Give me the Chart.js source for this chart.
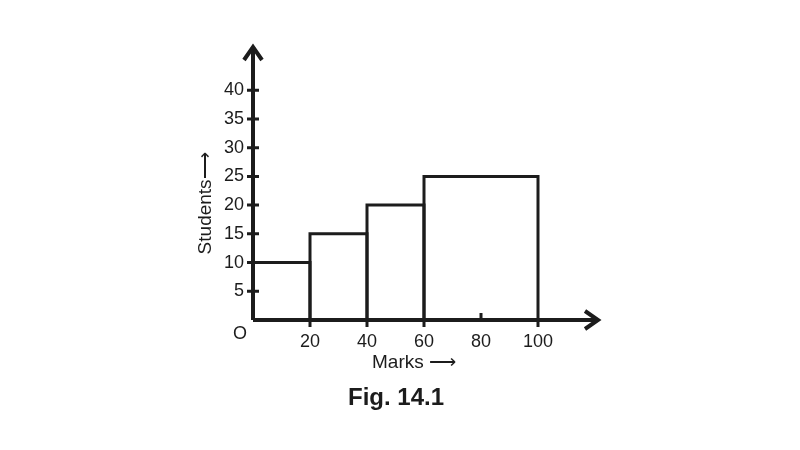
<!DOCTYPE html>
<html>
<head>
<meta charset="utf-8">
<script src="https://cdn.jsdelivr.net/npm/chart.js@4.4.1/dist/chart.umd.min.js"></script>
<style>
  html, body { margin: 0; padding: 0; background: #fff; }
  #wrap { width: 800px; height: 450px; }
</style>
</head>
<body>
<div id="wrap"><canvas id="myChart"></canvas></div>
<script>
// histogram data
const binStarts = [0, 20, 40, 60];
const binEnds = [20, 40, 60, 100];
const students = [10, 15, 20, 25];
const xTicks = [20, 40, 60, 80, 100];
const yTicks = [5, 10, 15, 20, 25, 30, 35, 40];

const ink = '#1c1c1c';
const fontFam = "'Liberation Sans', Arial, sans-serif";
Chart.defaults.font.family = fontFam;
Chart.defaults.color = ink;

const datasets = students.map((h, i) => ({
    data: [
        { x: binStarts[i], y: 0 },
        { x: binStarts[i], y: h },
        { x: binEnds[i], y: h },
        { x: binEnds[i], y: 0 }
    ],
    showLine: true,
    borderColor: ink,
    borderWidth: 3,
    borderJoinStyle: 'miter',
    pointRadius: 0,
    fill: false,
    clip: false
}));

// arrows, crossing ticks and labels
const axisExtras = {
    id: 'axisExtras',
    afterDraw(chart) {
        const { ctx, chartArea } = chart;
        const xs = chart.scales.x, ys = chart.scales.y;
        const x0 = xs.getPixelForValue(0), y0 = ys.getPixelForValue(0);
        ctx.save();
        ctx.strokeStyle = ink;
        ctx.lineCap = 'butt';
        ctx.lineJoin = 'miter';

        ctx.lineWidth = 4;
        const topTip = chartArea.top - 3;
        const rightTip = chartArea.right + 3;
        ctx.beginPath();
        ctx.moveTo(x0, y0); ctx.lineTo(x0, topTip + 2);
        ctx.moveTo(x0, y0); ctx.lineTo(rightTip - 2, y0);
        ctx.stroke();
        ctx.beginPath();
        ctx.moveTo(x0 - 9, topTip + 13); ctx.lineTo(x0, topTip); ctx.lineTo(x0 + 9, topTip + 13);
        ctx.moveTo(rightTip - 13, y0 - 9); ctx.lineTo(rightTip, y0); ctx.lineTo(rightTip - 13, y0 + 9);
        ctx.stroke();

        ctx.lineWidth = 3;
        ctx.beginPath();
        yTicks.forEach(v => {
            const py = ys.getPixelForValue(v);
            ctx.moveTo(x0 - 6, py); ctx.lineTo(x0 + 6, py);
        });
        xTicks.forEach(v => {
            const px = xs.getPixelForValue(v);
            if (binEnds.includes(v)) { ctx.moveTo(px, y0); ctx.lineTo(px, y0 + 7); }
            else { ctx.moveTo(px, y0 - 7); ctx.lineTo(px, y0); }
        });
        ctx.stroke();

        ctx.fillStyle = ink;
        ctx.font = '18px ' + fontFam;
        ctx.textAlign = 'center';
        ctx.textBaseline = 'middle';
        ctx.fillText('O', x0 - 13, y0 + 14);
        ctx.font = '19px ' + fontFam;
        ctx.fillText('Marks \u27F6', xs.getPixelForValue(56.5), y0 + 43);

        ctx.font = 'bold 24px ' + fontFam;
        ctx.fillText('Fig. 14.1', 396, 398);

        ctx.font = '19px ' + fontFam;
        ctx.translate(x0 - 47, ys.getPixelForValue(20.3));
        ctx.rotate(-Math.PI / 2);
        ctx.fillText('Students\u27F6', 0, 0);
        ctx.restore();
    }
};

new Chart(document.getElementById('myChart'), {
    type: 'scatter',
    data: { datasets },
    options: {
        responsive: true,
        maintainAspectRatio: false,
        animation: false,
        layout: { padding: { top: 50, right: 205, left: 0, bottom: 70 } },
        plugins: {
            legend: { display: false },
            tooltip: { enabled: false },
            title: { display: false }
        },
        scales: {
            x: {
                type: 'linear',
                min: 0,
                max: 120,
                grid: { display: false, drawTicks: false },
                border: { display: false },
                afterBuildTicks: s => { s.ticks = xTicks.map(v => ({ value: v })); },
                afterFit: s => { s.height = 60; },
                ticks: { padding: 11, font: { size: 18 }, maxRotation: 0 }
            },
            y: {
                type: 'linear',
                min: 0,
                max: 47,
                grid: { display: false, drawTicks: false },
                border: { display: false },
                afterBuildTicks: s => { s.ticks = yTicks.map(v => ({ value: v })); },
                afterFit: s => { s.width = 253; },
                ticks: { padding: 9, font: { size: 18 } }
            }
        }
    },
    plugins: [axisExtras]
});
</script>
</body>
</html>
